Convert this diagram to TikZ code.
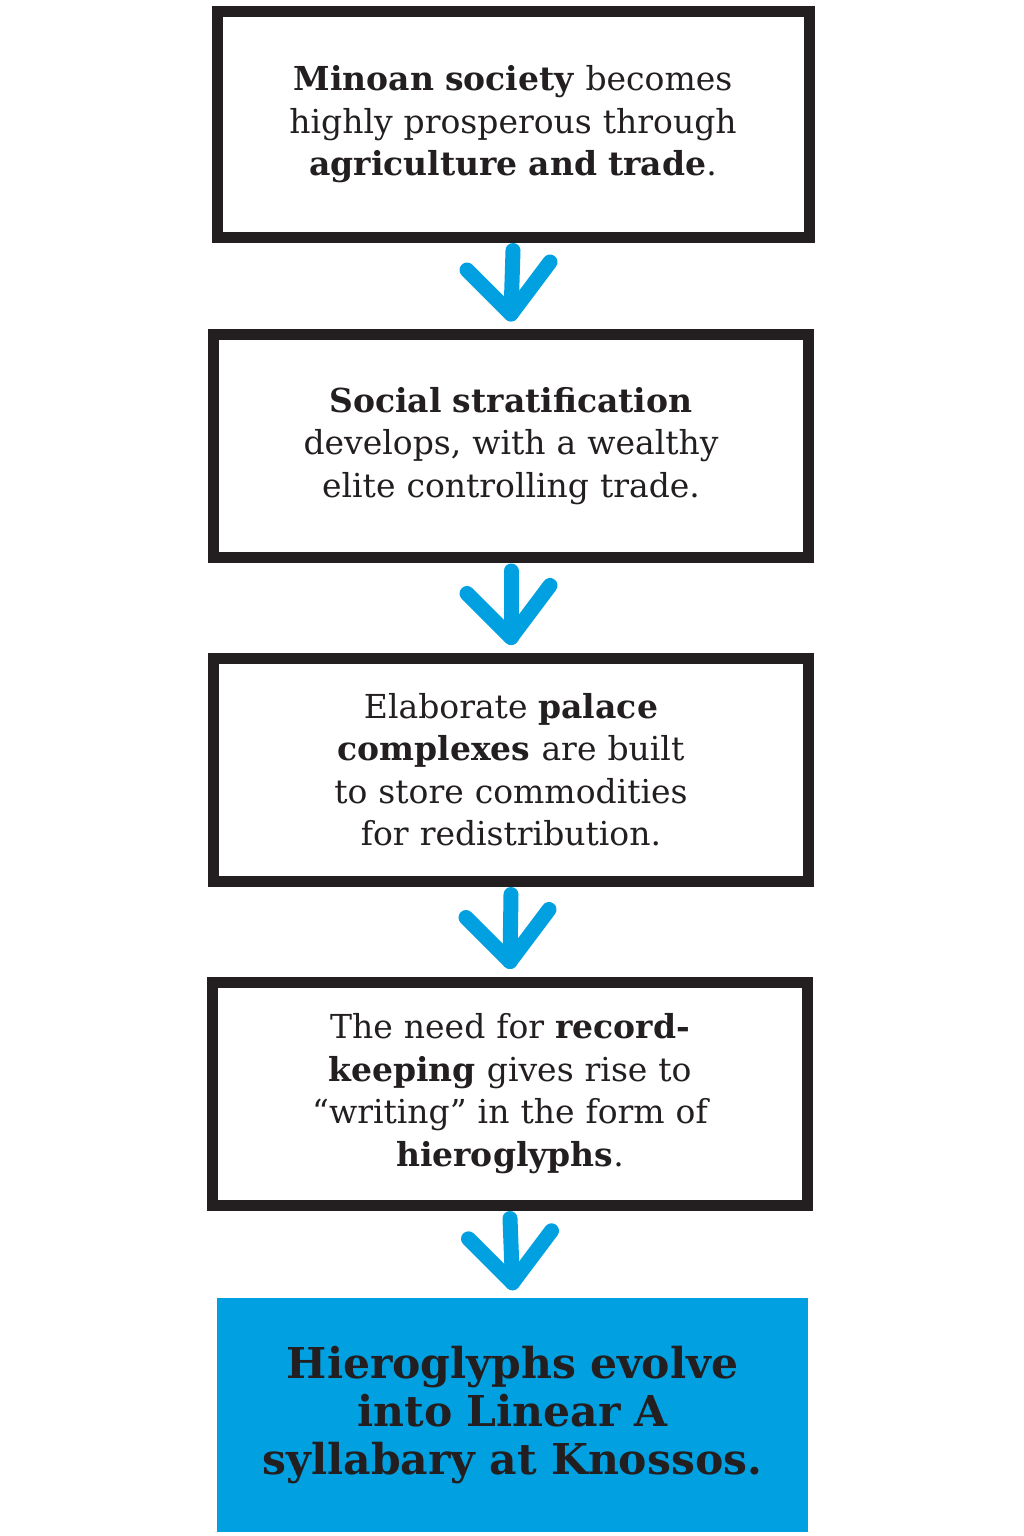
\documentclass[tikz,border=0pt]{standalone}
\usepackage{fontspec}
\setmainfont{DejaVu Serif}
\usetikzlibrary{calc}
\definecolor{ink}{HTML}{231F20}
\definecolor{sky}{HTML}{00A0E1}
\begin{document}
\begin{tikzpicture}[x=1pt,y=-1pt,
  stepbox/.style={draw=ink, line width=11pt, minimum width=595pt, minimum height=223pt,
    text width=540pt, align=center, font=\fontsize{33}{42.5}\selectfont, text=ink, inner sep=0pt},
  finalbox/.style={fill=sky, minimum width=591pt, minimum height=234pt, text width=580pt,
    align=center, font=\fontsize{42.5}{48}\selectfont\bfseries, text=ink, inner sep=0pt},
  flow/.style={draw=sky, line width=15pt, line cap=round, line join=round}]
\useasboundingbox (0,0) rectangle (1024,1536);
\fill[white] (0,0) rectangle (1024,1536);

\node[stepbox, minimum width=592pt, minimum height=225pt] (b1) at (513,124.5)
  {\textbf{Minoan society} becomes\\ highly prosperous through\\ \textbf{agriculture and trade}.};
\node[stepbox] (b2) at (511,446)
  {\textbf{Social stratification}\\ develops, with a wealthy\\ elite controlling trade.};
\node[stepbox] (b3) at (511,769.5)
  {Elaborate \textbf{palace}\\ \textbf{complexes} are built\\ to store commodities\\ for redistribution.};
\node[stepbox] (b4) at (510,1093.5)
  {The need for \textbf{record-}\\ \textbf{keeping} gives rise to\\ “writing” in the form of\\ \textbf{hieroglyphs}.};
\node[finalbox] (b5) at (512.5,1415)
  {Hieroglyphs evolve\\ into Linear A\\ syllabary at Knossos.};

\foreach \a/\b/\t in {b1/b2/t1, b2/b3/t2, b3/b4/t3, b4/b5/t4}{
  \coordinate (\t) at ($(\b.north)+(0,-15)$);
  \draw[flow] (\a.south) ++(0,8) -- (\t);
  \draw[flow] ($(\t)+(-44,-44)$) -- (\t) -- ($(\t)+(39,-52)$);
}
\end{tikzpicture}
\end{document}
